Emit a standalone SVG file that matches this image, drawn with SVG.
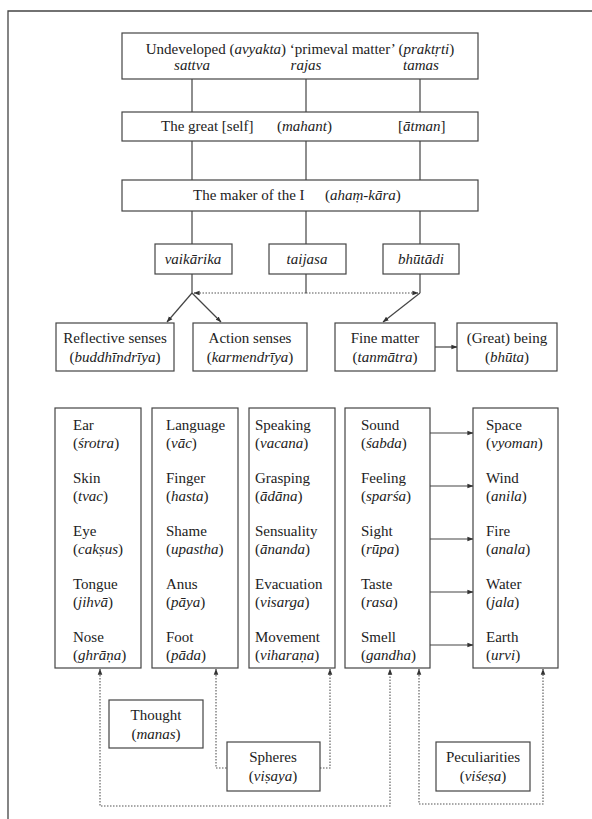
<svg xmlns="http://www.w3.org/2000/svg" width="592" height="819" viewBox="0 0 592 819" font-family="'Liberation Serif', 'Times New Roman', 'DejaVu Serif', serif">
<defs>
<style>
text{font-family:'Liberation Serif','Times New Roman','DejaVu Serif',serif;font-size:15px;fill:#222}
.i{font-style:italic}
.c{text-anchor:middle}
.box{fill:#fff;stroke:#444;stroke-width:1.2}
.ln{fill:none;stroke:#444;stroke-width:1.2}
.dot{fill:none;stroke:#555;stroke-width:1.1;stroke-dasharray:1.5 1.5}
</style>
<marker id="ah" viewBox="0 0 8 8" refX="7.5" refY="4" markerWidth="6" markerHeight="6" orient="auto-start-reverse" markerUnits="userSpaceOnUse">
<path d="M0,1 L8,4 L0,7 z" fill="#333"/>
</marker>
</defs>
<rect width="592" height="819" fill="#fff"/>
<path d="M8,819 V11 H592" fill="none" stroke="#444" stroke-width="1.3"/>

<g id="connectors">
<path class="ln" d="M192,79 V112 M306,79 V112 M420,79 V112"/>
<path class="ln" d="M192,141 V180 M306,141 V180 M420,141 V180"/>
<path class="ln" d="M192,211 V244 M306,211 V244 M420,211 V244"/>
<path class="ln" d="M192,274 V293 M306,274 V293 M420,274 V293"/>
<path class="dot" d="M306,293 H194" marker-end="url(#ah)"/>
<path class="dot" d="M306,293 H418" marker-end="url(#ah)"/>
<path class="ln" d="M192,293 L167,322" marker-end="url(#ah)"/>
<path class="ln" d="M192,293 L221,322" marker-end="url(#ah)"/>
<path class="ln" d="M420,293 L383,322" marker-end="url(#ah)"/>
<path class="ln" d="M435,347 H457" marker-end="url(#ah)"/>
<path class="ln" d="M430,433 H473" marker-end="url(#ah)"/>
<path class="ln" d="M430,486 H473" marker-end="url(#ah)"/>
<path class="ln" d="M430,539 H473" marker-end="url(#ah)"/>
<path class="ln" d="M430,592 H473" marker-end="url(#ah)"/>
<path class="ln" d="M430,645 H473" marker-end="url(#ah)"/>
<path class="dot" d="M100,669 V806 H390 V669" marker-start="url(#ah)" marker-end="url(#ah)"/>
<path class="dot" d="M216,669 V768 H227" marker-start="url(#ah)"/>
<path class="dot" d="M320,768 H330 V669" marker-end="url(#ah)"/>
<path class="dot" d="M419,669 V804 H543 V669" marker-start="url(#ah)" marker-end="url(#ah)"/>
</g>

<g id="prakrti">
<rect class="box" x="122" y="33" width="356" height="46"/>
<text x="300" y="54" class="c">Undeveloped (<tspan class="i">avyakta</tspan>) ‘primeval matter’ (<tspan class="i">praktṛti</tspan>)</text>
<text x="192" y="70" class="c i">sattva</text>
<text x="306" y="70" class="c i">rajas</text>
<text x="421" y="70" class="c i">tamas</text>
</g>

<g id="mahant">
<rect class="box" x="122" y="112" width="356" height="29"/>
<text x="161" y="131">The great [self]</text>
<text x="277" y="131">(<tspan class="i">mahant</tspan>)</text>
<text x="398" y="131">[<tspan class="i">ātman</tspan>]</text>
</g>

<g id="ahamkara">
<rect class="box" x="122" y="180" width="356" height="31"/>
<text x="193" y="200">The maker of the I</text>
<text x="325" y="200">(<tspan class="i">ahaṃ-kāra</tspan>)</text>
</g>

<g id="vaikarika">
<rect class="box" x="155" y="244" width="77" height="30"/>
<text x="193" y="264" class="c i">vaikārika</text>
</g>
<g id="taijasa">
<rect class="box" x="269" y="244" width="77" height="30"/>
<text x="307" y="264" class="c i">taijasa</text>
</g>
<g id="bhutadi">
<rect class="box" x="383" y="244" width="76" height="30"/>
<text x="421" y="264" class="c i">bhūtādi</text>
</g>

<g id="buddhindriya">
<rect class="box" x="56" y="323" width="118" height="48"/>
<text x="115" y="343" class="c">Reflective senses</text>
<text x="115" y="362" class="c">(<tspan class="i">buddhīndrīya</tspan>)</text>
</g>
<g id="karmendriya">
<rect class="box" x="193" y="323" width="114" height="48"/>
<text x="250" y="343" class="c">Action senses</text>
<text x="250" y="362" class="c">(<tspan class="i">karmendrīya</tspan>)</text>
</g>
<g id="tanmatra">
<rect class="box" x="335" y="323" width="100" height="48"/>
<text x="385" y="343" class="c">Fine matter</text>
<text x="385" y="362" class="c">(<tspan class="i">tanmātra</tspan>)</text>
</g>
<g id="bhuta">
<rect class="box" x="457" y="323" width="100" height="48"/>
<text x="507" y="343" class="c">(Great) being</text>
<text x="507" y="362" class="c">(<tspan class="i">bhūta</tspan>)</text>
</g>

<g id="col-senses">
<rect class="box" x="55" y="408" width="86" height="260"/>
<text x="73" y="430">Ear</text><text x="73" y="448">(<tspan class="i">śrotra</tspan>)</text>
<text x="73" y="483">Skin</text><text x="73" y="501">(<tspan class="i">tvac</tspan>)</text>
<text x="73" y="536">Eye</text><text x="73" y="554">(<tspan class="i">cakṣus</tspan>)</text>
<text x="73" y="589">Tongue</text><text x="73" y="607">(<tspan class="i">jihvā</tspan>)</text>
<text x="73" y="642">Nose</text><text x="73" y="660">(<tspan class="i">ghrāṇa</tspan>)</text>
</g>

<g id="col-organs">
<rect class="box" x="152" y="408" width="86" height="260"/>
<text x="166" y="430">Language</text><text x="166" y="448">(<tspan class="i">vāc</tspan>)</text>
<text x="166" y="483">Finger</text><text x="166" y="501">(<tspan class="i">hasta</tspan>)</text>
<text x="166" y="536">Shame</text><text x="166" y="554">(<tspan class="i">upastha</tspan>)</text>
<text x="166" y="589">Anus</text><text x="166" y="607">(<tspan class="i">pāya</tspan>)</text>
<text x="166" y="642">Foot</text><text x="166" y="660">(<tspan class="i">pāda</tspan>)</text>
</g>

<g id="col-actions">
<rect class="box" x="249" y="408" width="86" height="260"/>
<text x="255" y="430">Speaking</text><text x="255" y="448">(<tspan class="i">vacana</tspan>)</text>
<text x="255" y="483">Grasping</text><text x="255" y="501">(<tspan class="i">ādāna</tspan>)</text>
<text x="255" y="536">Sensuality</text><text x="255" y="554">(<tspan class="i">ānanda</tspan>)</text>
<text x="255" y="589">Evacuation</text><text x="255" y="607">(<tspan class="i">visarga</tspan>)</text>
<text x="255" y="642">Movement</text><text x="255" y="660">(<tspan class="i">viharaṇa</tspan>)</text>
</g>

<g id="col-fine">
<rect class="box" x="345" y="408" width="85" height="260"/>
<text x="361" y="430">Sound</text><text x="361" y="448">(<tspan class="i">śabda</tspan>)</text>
<text x="361" y="483">Feeling</text><text x="361" y="501">(<tspan class="i">sparśa</tspan>)</text>
<text x="361" y="536">Sight</text><text x="361" y="554">(<tspan class="i">rūpa</tspan>)</text>
<text x="361" y="589">Taste</text><text x="361" y="607">(<tspan class="i">rasa</tspan>)</text>
<text x="361" y="642">Smell</text><text x="361" y="660">(<tspan class="i">gandha</tspan>)</text>
</g>

<g id="col-elements">
<rect class="box" x="473" y="408" width="85" height="260"/>
<text x="486" y="430">Space</text><text x="486" y="448">(<tspan class="i">vyoman</tspan>)</text>
<text x="486" y="483">Wind</text><text x="486" y="501">(<tspan class="i">anila</tspan>)</text>
<text x="486" y="536">Fire</text><text x="486" y="554">(<tspan class="i">anala</tspan>)</text>
<text x="486" y="589">Water</text><text x="486" y="607">(<tspan class="i">jala</tspan>)</text>
<text x="486" y="642">Earth</text><text x="486" y="660">(<tspan class="i">urvi</tspan>)</text>
</g>

<g id="manas">
<rect class="box" x="109" y="700" width="94" height="48"/>
<text x="156" y="720" class="c">Thought</text>
<text x="156" y="739" class="c">(<tspan class="i">manas</tspan>)</text>
</g>
<g id="visaya">
<rect class="box" x="227" y="742" width="93" height="49"/>
<text x="273" y="762" class="c">Spheres</text>
<text x="273" y="781" class="c">(<tspan class="i">viṣaya</tspan>)</text>
</g>
<g id="visesa">
<rect class="box" x="436" y="742" width="94" height="49"/>
<text x="483" y="762" class="c">Peculiarities</text>
<text x="483" y="781" class="c">(<tspan class="i">viśeṣa</tspan>)</text>
</g>
</svg>
